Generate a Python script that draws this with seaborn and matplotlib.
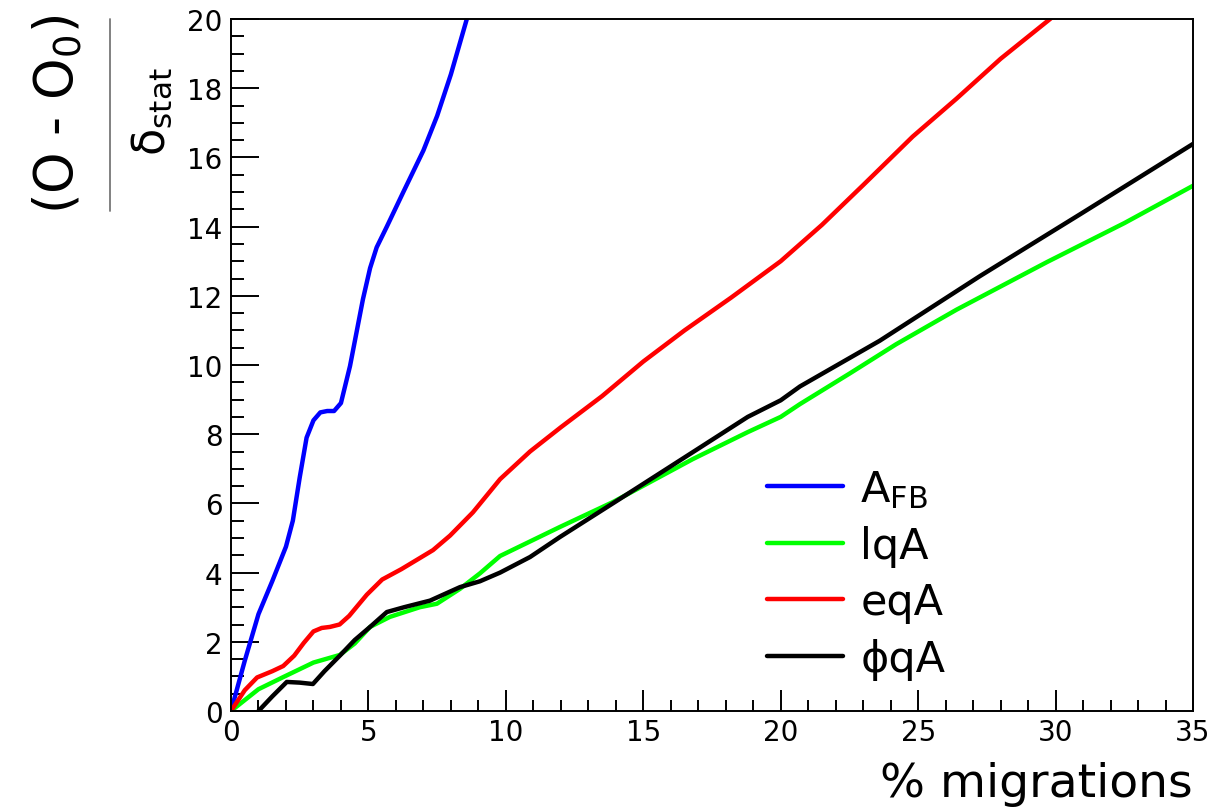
import matplotlib
matplotlib.use("Agg")
import matplotlib.pyplot as plt
from matplotlib.lines import Line2D
from matplotlib.ticker import MultipleLocator
import pandas as pd
import seaborn as sns

# Significance (O - O0)/delta_stat versus migration fraction for each observable
afb_x = [0, 0.5, 1.0, 1.5, 2.0, 2.25, 2.5, 2.75, 3.0, 3.25, 3.5, 3.75, 4.0,
         4.33, 4.8, 5.06, 5.3, 5.67, 6.27, 7.0, 7.5, 8.0, 8.58, 9.0]
afb_y = [0, 1.45, 2.8, 3.75, 4.75, 5.5, 6.75, 7.9, 8.4, 8.63, 8.67, 8.67, 8.9,
         9.97, 11.9, 12.8, 13.4, 14.0, 15.0, 16.2, 17.2, 18.4, 20.0, 21.0]

lqa_x = [0, 1.0, 1.9, 3.0, 3.96, 4.5, 5.06, 5.78, 6.87, 7.49, 8.33, 9.06, 9.79,
         10.88, 11.97, 13.9, 16.8, 18.8, 20.0, 20.7, 22.5, 24.2, 26.4, 29.7,
         32.5, 35.0]
lqa_y = [0, 0.63, 0.98, 1.4, 1.62, 1.95, 2.43, 2.72, 3.0, 3.1, 3.53, 3.98, 4.48,
         4.9, 5.32, 6.04, 7.28, 8.06, 8.5, 8.87, 9.75, 10.6, 11.6, 12.98,
         14.1, 15.18]

eqa_x = [0, 0.5, 0.95, 1.5, 1.9, 2.3, 2.65, 3.0, 3.3, 3.6, 3.95, 4.3, 4.94,
         5.5, 6.2, 6.87, 7.35, 7.97, 8.8, 9.79, 10.88, 12.0, 13.5, 15.0, 16.5,
         18.2, 20.0, 21.5, 23.0, 24.8, 26.4, 28.0, 29.8, 30.5]
eqa_y = [0, 0.6, 0.97, 1.15, 1.3, 1.6, 1.97, 2.3, 2.4, 2.43, 2.5, 2.75, 3.36,
         3.8, 4.1, 4.42, 4.65, 5.07, 5.74, 6.7, 7.5, 8.2, 9.1, 10.1, 11.0,
         11.95, 13.0, 14.05, 15.2, 16.6, 17.7, 18.85, 20.0, 20.5]

phiqa_x = [1.0, 1.5, 2.03, 2.5, 2.98, 3.4, 3.96, 4.5, 5.06, 5.67, 6.3, 7.24,
           8.33, 9.06, 9.79, 10.88, 11.97, 13.97, 16.8, 18.8, 20.0, 20.7,
           23.6, 27.25, 30.9, 35.0]
phiqa_y = [0, 0.42, 0.84, 0.82, 0.78, 1.15, 1.6, 2.05, 2.43, 2.86, 3.0, 3.19,
           3.58, 3.75, 4.0, 4.45, 5.03, 6.04, 7.48, 8.5, 8.98, 9.38,
           10.7, 12.57, 14.36, 16.39]

labels = ["A$_{\\rm FB}$", "lqA", "eqA", "\u03d5qA"]
colors = ["#0000ff", "#00ff00", "#ff0000", "#000000"]

frames = []
for lab, xs, ys in zip(labels, [afb_x, lqa_x, eqa_x, phiqa_x],
                       [afb_y, lqa_y, eqa_y, phiqa_y]):
    frames.append(pd.DataFrame({"migr": xs, "signif": ys, "obs": lab}))
data = pd.concat(frames, ignore_index=True)

sns.set_theme(style="ticks")
plt.rcParams["font.family"] = ["DejaVu Sans"]
plt.rcParams["mathtext.fontset"] = "dejavusans"
plt.rcParams["text.color"] = "black"
plt.rcParams["axes.labelcolor"] = "black"
plt.rcParams["xtick.color"] = "black"
plt.rcParams["ytick.color"] = "black"

W, H = 1226, 812
fig = plt.figure(figsize=(W / 100, H / 100), dpi=100, facecolor="white")
ax = fig.add_axes([231 / W, 1 - 712 / H, (1193 - 231) / W, (712 - 20) / H])

sns.lineplot(data=data, x="migr", y="signif", hue="obs", hue_order=labels,
             palette=colors, sort=False, estimator=None, lw=3.2, ax=ax)
for ln in ax.get_lines():
    ln.set_solid_joinstyle("round")

ax.set_xlim(0, 35)
ax.set_ylim(0, 20)
ax.xaxis.set_major_locator(MultipleLocator(5))
ax.xaxis.set_minor_locator(MultipleLocator(1))
ax.yaxis.set_major_locator(MultipleLocator(2))
ax.yaxis.set_minor_locator(MultipleLocator(0.5))
ax.tick_params(axis="both", which="both", direction="in", colors="black",
               labelcolor="black", width=1.4, top=False, right=False)
ax.tick_params(axis="y", which="major", length=20, pad=6, labelsize=20)
ax.tick_params(axis="y", which="minor", length=9.5)
ax.tick_params(axis="x", which="major", length=15, pad=5, labelsize=20)
ax.tick_params(axis="x", which="minor", length=8)
for sp in ax.spines.values():
    sp.set_linewidth(1.4)
    sp.set_color("black")
ax.set_xlabel("")
ax.set_ylabel("")

handles, _ = ax.get_legend_handles_labels()
leg = ax.legend(handles=handles, labels=labels, loc="center left",
                bbox_to_anchor=((767 - 231) / 962, (712 - 575) / 692),
                frameon=False, fontsize=31, handlelength=1.77,
                handletextpad=0.4, labelspacing=0.34, borderpad=0,
                borderaxespad=0)
for ln in leg.get_lines():
    ln.set_linewidth(3.2)
for t in leg.get_texts():
    t.set_color("black")

# axis titles
fig.text(1193 / W, 1 - 797 / H, "% migrations", ha="right", va="baseline",
         fontsize=34, color="black")
fig.text(58 / W, 1 - 114 / H, "(O - O$_0$)", rotation=90, ha="center",
         va="center", fontsize=38, color="black")
fig.add_artist(Line2D([110 / W, 110 / W], [1 - 20 / H, 1 - 212 / H],
                      transform=fig.transFigure, color="#777777", lw=1.3))
fig.text(152 / W, 1 - 112 / H, "\u03b4$_{\\rm stat}$", rotation=90,
         ha="center", va="center", fontsize=32, color="black")

fig.savefig("out.png", dpi=100, facecolor="white")
